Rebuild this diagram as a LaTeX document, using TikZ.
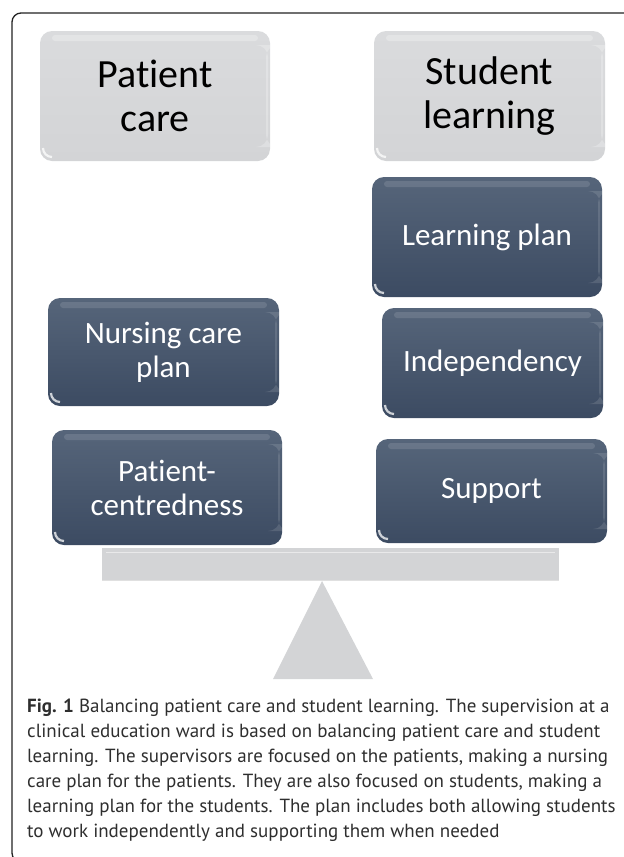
\documentclass[tikz,border=0pt]{standalone}
\usepackage{fontspec}
\setmainfont{Carlito}[Ligatures={NoCommon}]
\newfontfamily\capfont{PT Sans}
\definecolor{boxgray}{HTML}{D3D4D6}
\definecolor{boxgraytop}{HTML}{DADBDD}
\definecolor{darktop}{HTML}{56657A}
\definecolor{darkbot}{HTML}{3C4B62}
\definecolor{framec}{HTML}{222222}
\tikzset{
  glossy/.style={path picture={
    \fill[white,opacity=#1,rounded corners=3pt]
      ([xshift=12pt,yshift=-4pt]path picture bounding box.north west) rectangle
      ([xshift=-12pt,yshift=-10pt]path picture bounding box.north east);
    \fill[white,opacity=#1]
      ([xshift=-4pt,yshift=-14pt]path picture bounding box.north east) rectangle
      ([xshift=-2pt,yshift=14pt]path picture bounding box.south east);
    \draw[white,line width=2.2pt,opacity=.75]
      ([xshift=3pt,yshift=13pt]path picture bounding box.south west)
      arc[start angle=180,end angle=270,radius=9pt];
  }},
  graybox/.style={rectangle, rounded corners=12pt, draw=none,
    top color=boxgraytop, bottom color=boxgray, align=center, inner sep=0pt,
    text=black, font=\fontsize{40}{44}\selectfont, glossy=.25},
  darkbox/.style={rectangle, rounded corners=12pt, draw=none,
    top color=darktop, bottom color=darkbot, align=center, inner sep=0pt,
    text=white, font=\fontsize{31}{34}\selectfont, glossy=.12},
  capline/.style={anchor=base west, inner sep=0pt, text=black!82,
    font=\capfont\fontsize{19}{25}\selectfont},
  seesaw/.style={fill=boxgray, draw=none}
}
\begin{document}
\begin{tikzpicture}[x=1pt,y=-1pt]
\useasboundingbox (0,0) rectangle (624,857);
\clip (0,0) rectangle (624,857);
% frame
\draw[framec, line width=1.3pt, rounded corners=9pt] (630,13) -- (12,13) -- (12,862) -- (40,862);
% header boxes
\node[graybox, minimum width=230pt, minimum height=130pt] (pc) at (155,96) {Patient\\care};
\node[graybox, minimum width=231pt, minimum height=130pt] (sl) at (489.5,96) {Student\\learning};
% right column
\node[darkbox, minimum width=230pt, minimum height=120pt] (lp) at (487,237) {Learning plan};
\node[darkbox, minimum width=221pt, minimum height=110pt] (ind) at (492.5,363) {Independency};
\node[darkbox, minimum width=231pt, minimum height=104pt] (sup) at (491.5,491) {Support};
% left column
\node[darkbox, minimum width=231pt, minimum height=108pt] (ncp) at (163.5,352) {Nursing care\\plan};
\node[darkbox, minimum width=230pt, minimum height=115pt] (pcd) at (167,487.5) {Patient-\\centredness};
% seesaw
\fill[seesaw] (102,548) rectangle (559,580);
\draw[white, opacity=.5, line width=1pt] (106,552) -- (555,552);
\draw[black!12, line width=1pt] (102,580) -- (559,580);
\fill[seesaw] (322,581) -- (373,679) -- (273,679) -- cycle;
% caption
\node[capline] (c1) at (27,712) {\textbf{Fig. 1} Balancing patient care and student learning. The supervision at a};
\node[capline] (c2) at (27,737) {clinical education ward is based on balancing patient care and student};
\node[capline] (c3) at (27,762) {learning. The supervisors are focused on the patients, making a nursing};
\node[capline] (c4) at (27,787) {care plan for the patients. They are also focused on students, making a};
\node[capline] (c5) at (27,812) {learning plan for the students. The plan includes both allowing students};
\node[capline] (c6) at (27,837) {to work independently and supporting them when needed};
\end{tikzpicture}
\end{document}
